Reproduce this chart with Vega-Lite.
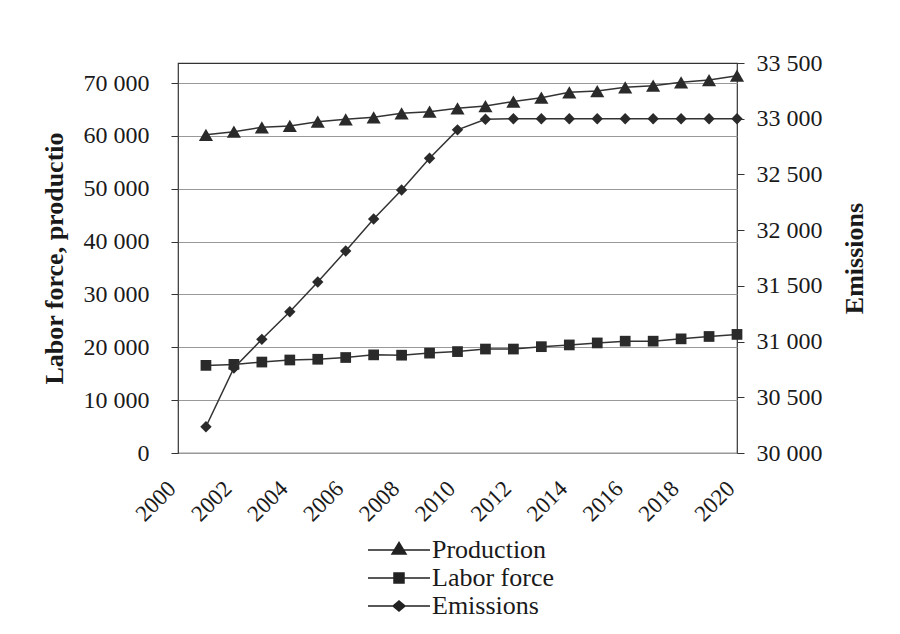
{
  "$schema": "https://vega.github.io/schema/vega-lite/v6.json",
  "width": 559,
  "height": 390,
  "autosize": {"type": "none"},
  "padding": {"left": 178, "top": 63, "right": 163, "bottom": 181},
  "background": "white",
  "config": {
    "font": "Liberation Serif",
    "view": {"stroke": "#333", "strokeWidth": 1.2},
    "axis": {"labelFont": "Liberation Serif", "titleFont": "Liberation Serif", "labelColor": "#1a1a1a", "titleColor": "#1a1a1a", "domain": false}
  },
  "datasets": {
    "d": [
      {"year": 2001, "production": 60200, "labor": 16580, "emissions": 30236},
      {"year": 2002, "production": 60800, "labor": 16770, "emissions": 30763},
      {"year": 2003, "production": 61630, "labor": 17210, "emissions": 31020},
      {"year": 2004, "production": 61880, "labor": 17600, "emissions": 31268},
      {"year": 2005, "production": 62690, "labor": 17740, "emissions": 31535},
      {"year": 2006, "production": 63150, "labor": 18070, "emissions": 31813},
      {"year": 2007, "production": 63520, "labor": 18570, "emissions": 32100},
      {"year": 2008, "production": 64280, "labor": 18510, "emissions": 32360},
      {"year": 2009, "production": 64590, "labor": 18900, "emissions": 32645},
      {"year": 2010, "production": 65230, "labor": 19190, "emissions": 32900},
      {"year": 2011, "production": 65660, "labor": 19670, "emissions": 32995},
      {"year": 2012, "production": 66510, "labor": 19670, "emissions": 33000},
      {"year": 2013, "production": 67230, "labor": 20120, "emissions": 33000},
      {"year": 2014, "production": 68250, "labor": 20450, "emissions": 33000},
      {"year": 2015, "production": 68500, "labor": 20830, "emissions": 33000},
      {"year": 2016, "production": 69200, "labor": 21160, "emissions": 33000},
      {"year": 2017, "production": 69500, "labor": 21160, "emissions": 33000},
      {"year": 2018, "production": 70150, "labor": 21600, "emissions": 33000},
      {"year": 2019, "production": 70580, "labor": 22050, "emissions": 33000},
      {"year": 2020, "production": 71400, "labor": 22440, "emissions": 33000}
    ],
    "series": [
      {"series": "Production"},
      {"series": "Labor force"},
      {"series": "Emissions"}
    ]
  },
  "data": {"name": "d"},
  "encoding": {
    "x": {
      "field": "year",
      "type": "quantitative",
      "scale": {"domain": [2000, 2020], "nice": false, "zero": false},
      "axis": {
        "values": [2000, 2002, 2004, 2006, 2008, 2010, 2012, 2014, 2016, 2018, 2020],
        "format": "d",
        "labelAngle": -45,
        "labelFontSize": 23,
        "ticks": false,
        "labelPadding": 24,
        "labelOffset": -14,
        "grid": false,
        "title": null
      }
    }
  },
  "layer": [
    {
      "layer": [
        {
          "mark": {"type": "line", "color": "#333", "strokeWidth": 1.5},
          "encoding": {
            "y": {
              "field": "production",
              "type": "quantitative",
              "scale": {"domain": [0, 73800], "nice": false, "zero": true},
              "axis": {
                "title": "Labor force, productio",
                "titleFontSize": 26,
                "titleFontWeight": "bold",
                "titlePadding": 16,
                "labelFontSize": 24,
                "values": [0, 10000, 20000, 30000, 40000, 50000, 60000, 70000],
                "labelExpr": "replace(format(datum.value, ',d'), ',', ' ')",
                "tickSize": 7,
                "tickColor": "#333",
                "labelPadding": 22,
                "grid": true,
                "gridColor": "#999",
                "gridWidth": 1
              }
            }
          }
        },
        {
          "mark": {"type": "point", "shape": "triangle-up", "filled": true, "color": "#2a2a2a", "size": 200, "opacity": 1},
          "encoding": {
            "y": {
              "field": "production",
              "type": "quantitative",
              "axis": {
                "title": "Labor force, productio",
                "titleFontSize": 26,
                "titleFontWeight": "bold",
                "titlePadding": 16,
                "labelFontSize": 24,
                "values": [0, 10000, 20000, 30000, 40000, 50000, 60000, 70000],
                "labelExpr": "replace(format(datum.value, ',d'), ',', ' ')",
                "tickSize": 7,
                "tickColor": "#333",
                "labelPadding": 22,
                "grid": true,
                "gridColor": "#999",
                "gridWidth": 1
              }
            }
          }
        },
        {
          "mark": {"type": "line", "color": "#333", "strokeWidth": 1.5},
          "encoding": {
            "y": {
              "field": "labor",
              "type": "quantitative",
              "axis": {
                "title": "Labor force, productio",
                "titleFontSize": 26,
                "titleFontWeight": "bold",
                "titlePadding": 16,
                "labelFontSize": 24,
                "values": [0, 10000, 20000, 30000, 40000, 50000, 60000, 70000],
                "labelExpr": "replace(format(datum.value, ',d'), ',', ' ')",
                "tickSize": 7,
                "tickColor": "#333",
                "labelPadding": 22,
                "grid": true,
                "gridColor": "#999",
                "gridWidth": 1
              }
            }
          }
        },
        {
          "mark": {"type": "point", "shape": "square", "filled": true, "color": "#2a2a2a", "size": 115, "opacity": 1},
          "encoding": {
            "y": {
              "field": "labor",
              "type": "quantitative",
              "axis": {
                "title": "Labor force, productio",
                "titleFontSize": 26,
                "titleFontWeight": "bold",
                "titlePadding": 16,
                "labelFontSize": 24,
                "values": [0, 10000, 20000, 30000, 40000, 50000, 60000, 70000],
                "labelExpr": "replace(format(datum.value, ',d'), ',', ' ')",
                "tickSize": 7,
                "tickColor": "#333",
                "labelPadding": 22,
                "grid": true,
                "gridColor": "#999",
                "gridWidth": 1
              }
            }
          }
        },
        {
          "data": {"name": "series"},
          "mark": {"type": "point", "filled": false, "color": "#222", "opacity": 0},
          "encoding": {
            "x": {"datum": 2010, "type": "quantitative"},
            "shape": {
              "field": "series",
              "type": "nominal",
              "scale": {
                "domain": ["Production", "Labor force", "Emissions"],
                "range": [
                  "M-3.1,0L3.1,0M0,-0.75L0.7,0.4L-0.7,0.4ZM0,-0.56L0.52,0.3L-0.52,0.3ZM0,-0.38L0.35,0.2L-0.35,0.2ZM0,-0.19L0.18,0.1L-0.18,0.1Z",
                  "M-3.1,0L3.1,0M-0.5,-0.5L0.5,-0.5L0.5,0.5L-0.5,0.5ZM-0.38,-0.38L0.38,-0.38L0.38,0.38L-0.38,0.38ZM-0.26,-0.26L0.26,-0.26L0.26,0.26L-0.26,0.26ZM-0.14,-0.14L0.14,-0.14L0.14,0.14L-0.14,0.14Z",
                  "M-3.1,0L3.1,0M-0.6,0L0,-0.5L0.6,0L0,0.5ZM-0.45,0L0,-0.375L0.45,0L0,0.375ZM-0.3,0L0,-0.25L0.3,0L0,0.25ZM-0.15,0L0,-0.125L0.15,0L0,0.125Z"
                ]
              },
              "legend": {
                "orient": "none",
                "legendX": 208,
                "legendY": 474,
                "title": null,
                "labelFont": "Liberation Serif",
                "labelFontSize": 26,
                "labelColor": "#1a1a1a",
                "symbolSize": 400,
                "symbolOpacity": 1,
                "symbolStrokeColor": "#222",
                "symbolStrokeWidth": 1.5,
                "labelOffset": 20,
                "rowPadding": 2,
                "padding": 0
              }
            }
          }
        }
      ]
    },
    {
      "layer": [
        {
          "mark": {"type": "line", "color": "#333", "strokeWidth": 1.5},
          "encoding": {
            "y": {
              "field": "emissions",
              "type": "quantitative",
              "scale": {"domain": [30000, 33500], "nice": false, "zero": false},
              "axis": {
                "orient": "right",
                "title": "Emissions",
                "titleAngle": -90,
                "titleFontSize": 26,
                "titleFontWeight": "bold",
                "titlePadding": 45,
                "labelFontSize": 24,
                "values": [30000, 30500, 31000, 31500, 32000, 32500, 33000, 33500],
                "labelExpr": "replace(format(datum.value, ',d'), ',', ' ')",
                "tickSize": 7,
                "tickColor": "#333",
                "labelPadding": 12,
                "grid": false
              }
            }
          }
        },
        {
          "mark": {"type": "point", "shape": "diamond", "filled": true, "color": "#2a2a2a", "size": 130, "opacity": 1},
          "encoding": {
            "y": {
              "field": "emissions",
              "type": "quantitative",
              "axis": {
                "orient": "right",
                "title": "Emissions",
                "titleAngle": -90,
                "titleFontSize": 26,
                "titleFontWeight": "bold",
                "titlePadding": 45,
                "labelFontSize": 24,
                "values": [30000, 30500, 31000, 31500, 32000, 32500, 33000, 33500],
                "labelExpr": "replace(format(datum.value, ',d'), ',', ' ')",
                "tickSize": 7,
                "tickColor": "#333",
                "labelPadding": 12,
                "grid": false
              }
            }
          }
        }
      ]
    }
  ],
  "resolve": {"scale": {"y": "independent"}}
}
